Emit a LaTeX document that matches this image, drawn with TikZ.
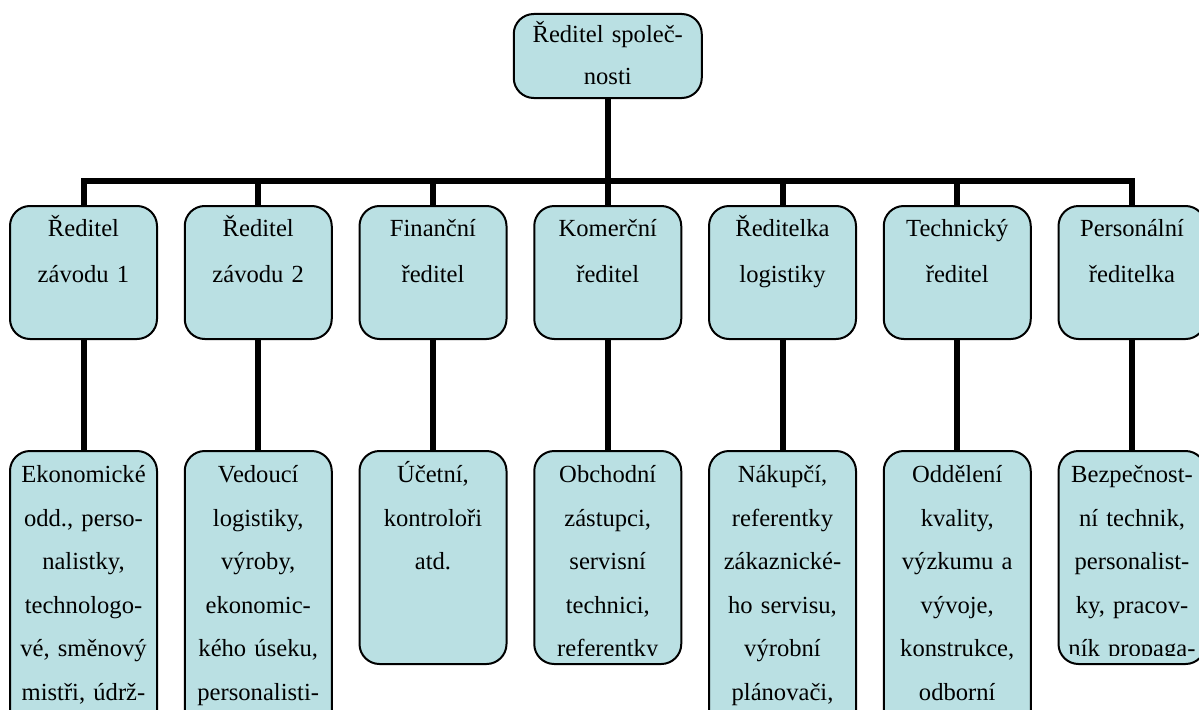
\documentclass[tikz,border=0pt]{standalone}
\usepackage{fontspec}
\setmainfont{Liberation Serif}
\usetikzlibrary{positioning}
\definecolor{boxfill}{RGB}{186,224,227}

\tikzset{
    orgbox/.style={draw=black, line width=1pt, fill=boxfill, rounded corners=10pt,
        inner sep=0pt, anchor=north, minimum width=73.5pt},
    link/.style={line width=3pt},
    lbl/.style={anchor=base, inner sep=0pt, text width=90pt, align=center,
        font=\fontsize{12.3}{#1}\selectfont},
}
%% text of a box, cut off at the lower edge like in the original
\newcommand{\boxtext}[3]{%
    \clip (path picture bounding box.north west) rectangle ([yshift=4.5pt]path picture bounding box.south east);
    \node[lbl=#1] at ([yshift=-#2]path picture bounding box.north) {#3};}

\begin{document}
\begin{tikzpicture}[x=0.5pt, y=0.5pt]
    \clip (0,0) rectangle (1199,709);
    \fill[white] (0,0) rectangle (1199,709);
    %% vedení
    \node[orgbox, minimum width=94pt, minimum height=42pt,
        path picture={\boxtext{21pt}{14.35pt}{Ředitel spole\v{c}-\\nosti}}] (top) at (607.75,696) {};
    \coordinate (bar) at (607.75,527.7);
    %% ředitelé a jejich útvary
    \foreach \i/\mtext/\btext/\bh in {%
        1/{Ředitel\\závodu 1}/{Ekonomické\\odd., perso-\\nalistky,\\technologo-\\vé, směnový\\mistři, údrž-}/160pt,
        2/{Ředitel\\závodu 2}/{Vedoucí\\logistiky,\\výroby,\\ekonomic-\\kého úseku,\\personalisti-}/160pt,
        3/{Finanční\\ředitel}/{Účetní,\\kontroloři\\atd.}/106.5pt,
        4/{Komerční\\ředitel}/{Obchodní\\zástupci,\\servisní\\technici,\\referentky}/106.5pt,
        5/{Ředitelka\\logistiky}/{Nákupčí,\\referentky\\zákaznické-\\ho servisu,\\výrobní\\plánovači,}/160pt,
        6/{Technický\\ředitel}/{Oddělení\\kvality,\\výzkumu a\\vývoje,\\konstrukce,\\odborní}/160pt,
        7/{Personální\\ředitelka}/{Bezpečnost-\\ní technik,\\personalist-\\ky, pracov-\\ník propaga-}/106.5pt}{
        \node[orgbox, minimum height=66.5pt,
            path picture={\boxtext{23pt}{15.35pt}{\mtext}}] (m\i) at ({83.5+174.75*(\i-1)},504) {};
        \node[orgbox, minimum height=\bh, below=55pt of m\i,
            path picture={\boxtext{21.8pt}{15.75pt}{\btext}}] (b\i) {};
        \draw[link] (m\i.south) -- (b\i.north);
    }
    %% spojnice
    \draw[link] (top.south) -- (bar);
    \draw[link] (m1.north) -- (m1.north |- bar) -- (m7.north |- bar) -- (m7.north);
    \foreach \i in {2,...,6}
        \draw[link] (m\i.north |- bar) -- (m\i.north);
\end{tikzpicture}
\end{document}
